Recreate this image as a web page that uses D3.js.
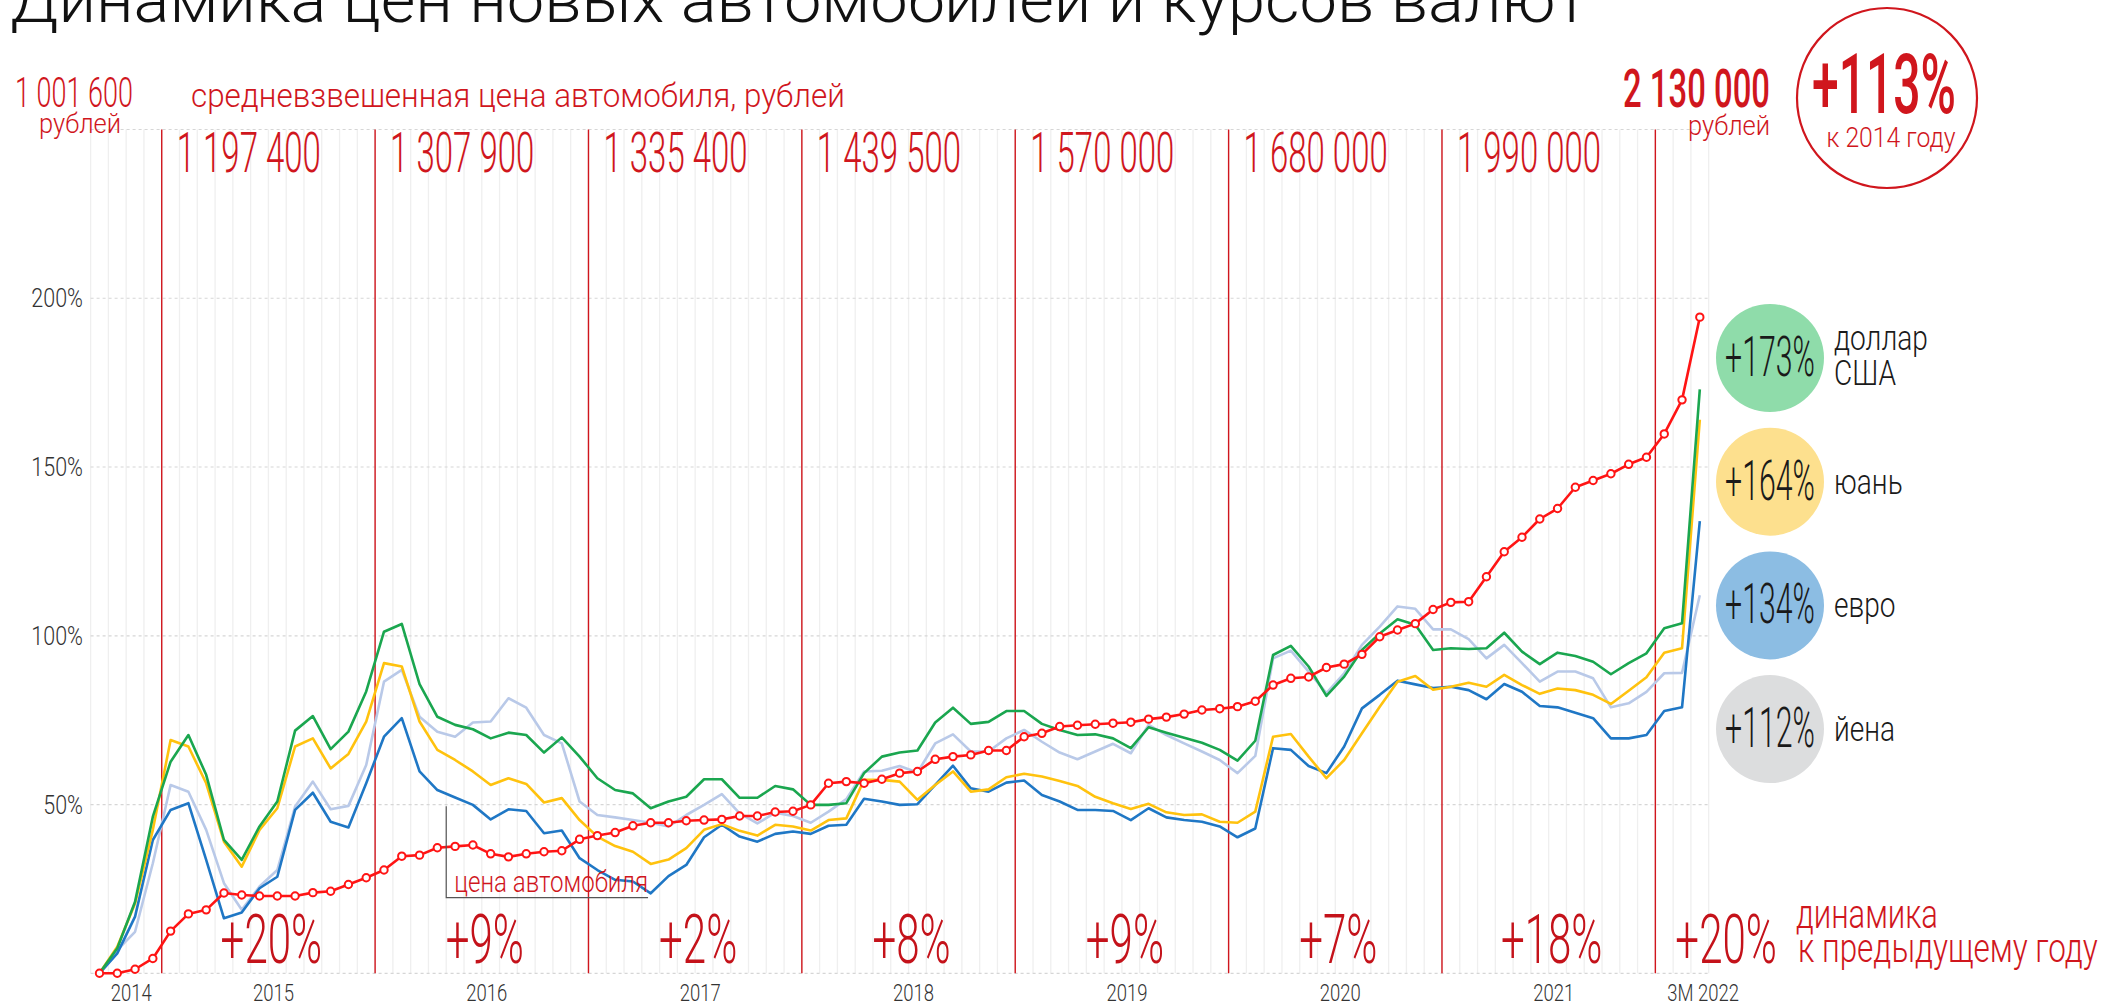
<!DOCTYPE html>
<html><head><meta charset="utf-8">
<script src="https://cdn.jsdelivr.net/npm/d3@7"></script>
<style>
html,body{margin:0;padding:0;background:#fff;overflow:hidden}
svg{display:block}
text{font-family:Roboto,"Noto Sans",sans-serif}
</style></head><body>
<svg id="chart" width="2106" height="1006"></svg>
<script>
// ---------- DATA ----------
const yearLabels = ["2014","2015","2016","2017","2018","2019","2020","2021","3М 2022"];
const monthsPerYear = [4,12,12,12,12,12,12,12,3];
const yearPrices = [1001600,1197400,1307900,1335400,1439500,1570000,1680000,1990000,2130000];
const yearChange = [null,20,9,2,8,9,7,18,20];
const yTicks = [50,100,150,200];
const gridTicks = [0,50,100,150,200,250];

// % change vs first month
const carPrice = [0,0,1.2,4.4,12.5,17.6,18.8,23.8,23.2,22.9,22.9,22.9,23.9,24.3,26.3,28.3,30.6,34.7,35.0,37.2,37.6,38.0,35.4,34.5,35.4,36.0,36.3,39.7,40.8,41.7,43.7,44.6,44.6,45.2,45.4,45.6,46.6,46.6,47.8,48.0,49.9,56.3,56.8,56.3,57.5,59.3,59.8,63.4,64.2,64.7,66.0,66.0,70.1,71.1,73.1,73.5,73.8,74.1,74.4,75.3,75.9,76.8,78.0,78.4,79.0,80.6,85.4,87.4,87.8,90.6,91.6,94.5,99.7,101.7,103.6,107.8,109.9,110.1,117.5,124.9,129.2,134.6,137.7,144.0,146.0,148.0,150.8,152.9,159.8,169.9,194.4];
const usd = [0,7.4,21.2,46.4,62.7,70.6,58.8,39.5,33.6,43.5,50.9,71.9,76.2,66.4,71.6,83.5,101.2,103.5,85.7,76.0,73.6,72.3,69.6,71.3,70.6,65.4,69.9,64.2,57.8,54.3,53.3,48.9,50.9,52.3,57.5,57.5,52.0,52.0,55.5,54.5,49.9,49.9,50.4,59.3,64.2,65.4,66.0,74.3,78.7,73.9,74.5,77.7,77.7,73.9,72.1,70.6,70.8,69.6,66.7,72.9,71.3,69.8,68.3,66.2,63.0,68.9,94.3,97.0,90.9,82.2,87.9,95.8,100.7,104.9,103.3,95.8,96.3,96.1,96.3,100.9,95.3,91.6,95.0,94.0,92.3,88.6,91.9,94.8,102.2,103.7,173];
const cny = [0,7.9,20.7,42.5,69.1,67.2,56.3,39.0,31.6,42.5,48.9,67.2,69.6,60.7,65.0,74.6,91.9,90.9,74.6,66.2,63.2,59.8,55.8,57.8,56.1,50.6,51.9,45.4,40.5,37.7,36.0,32.4,33.7,37.1,42.5,44.2,42.2,40.8,44.0,43.5,42.3,45.4,45.9,57.3,57.3,56.8,51.4,55.8,59.8,53.8,54.5,58.1,59.1,58.3,57.0,55.5,52.3,50.4,48.7,50.2,47.7,46.9,47.1,44.9,44.6,47.9,70.1,70.9,64.2,57.8,63.2,71.1,79.0,86.4,88.1,84.0,84.9,86.1,84.9,88.4,85.4,82.8,84.4,83.9,82.5,79.8,83.7,87.7,95.0,96.3,164];
const eur = [0,5.9,16.8,39.5,48.4,50.4,33.6,16.3,18.0,25.2,28.6,48.4,53.5,44.9,43.2,56.3,70.1,75.6,59.8,54.3,52.1,49.9,45.6,48.6,48.1,41.5,42.3,34.1,30.6,27.7,27.2,23.7,28.8,32.1,40.3,44.0,40.5,39.0,41.3,42.0,41.3,43.7,44.0,51.7,50.9,49.9,50.1,55.8,61.5,54.8,53.8,56.5,57.1,52.8,50.9,48.4,48.4,48.1,45.4,48.9,46.2,45.4,44.9,43.5,40.3,42.9,66.7,66.2,61.4,59.3,67.2,78.5,82.5,86.7,85.6,84.5,84.9,83.9,81.2,85.7,83.4,79.2,78.8,77.2,75.6,69.6,69.6,70.6,77.7,78.8,134];
const jpy = [0,6.9,12.3,32.6,55.8,53.8,42.5,26.7,18.8,25.7,30.6,49.4,56.8,48.6,49.6,61.7,86.4,89.9,76.0,71.6,70.1,74.3,74.6,81.5,78.7,70.6,68.1,50.9,46.9,46.2,45.4,44.6,43.5,46.9,49.9,53.1,47.4,44.4,47.6,46.6,44.6,47.9,51.6,59.8,60.0,61.4,59.5,68.1,70.8,65.7,65.7,69.6,72.1,68.6,65.4,63.4,65.7,68.0,65.2,73.6,70.6,68.1,65.7,63.2,59.3,64.4,93.3,95.6,89.4,83.0,88.9,97.3,102.7,108.7,108.0,101.9,101.9,99.0,93.3,97.3,91.9,86.4,89.4,89.4,87.4,78.8,80.0,83.4,88.9,89.0,112];
const currencyNames = [["доллар","США"],["юань"],["евро"],["йена"]];
const currencySeries = [usd, cny, eur, jpy];

// ---------- STYLE ----------
const lineColors = ["#1aa64f","#ffc20e","#1f77c5","#b9c9e8"];
const circleColors = ["#8fdcaa","#fde08e","#8cbde3","#dcddde"];
const RED = "#d0161d", DARKRED = "#c4121a", PRICE_RED = "#ff1414";

const svg = d3.select("#chart");
svg.append("rect").attr("width",2106).attr("height",1006).attr("fill","#fff");

// months (categories)
const months = [];
yearLabels.forEach((y,yi)=>{ for(let m=0;m<monthsPerYear[yi];m++) months.push(yi+"-"+m); });
const x = d3.scaleBand().domain(months).range([90.6,1708.7]).padding(0);
const y = d3.scaleLinear().domain([0,250]).range([973.3,129.5]);
const bw = x.bandwidth();
const xc = i => x(months[i]) + bw/2;

// year boundaries
const yearStart = [], yearEnd = [];
let acc = 0;
monthsPerYear.forEach(n=>{ yearStart.push(x(months[acc])); acc+=n; yearEnd.push(acc<months.length? x(months[acc]) : x.range()[1]); });

// horizontal condensing of text (emulates a condensed typeface)
function squeezeEl(el,k){
  const s = d3.select(el);
  const x0 = +s.attr("x") || 0, y0 = +s.attr("y") || 0;
  s.attr("x", x0/k).attr("y", y0).attr("transform", `scale(${k},1)`);
}
function condense(sel,k){ sel.each(function(){ squeezeEl(this,k); }); return sel; }
function fit(sel,w){ sel.each(function(){ const L=this.getComputedTextLength(); squeezeEl(this, w/L); }); return sel; }
const fmt = d3.formatLocale({decimal:",",thousands:" ",grouping:[3],currency:["",""]}).format(",d");

// ---------- GRID ----------
const g = svg.append("g");
g.selectAll(".vg").data(d3.range(months.length+1)).join("line")
  .attr("x1",i=> i<months.length? x(months[i]) : x.range()[1]).attr("x2",i=> i<months.length? x(months[i]) : x.range()[1])
  .attr("y1",y(250)).attr("y2",y(0)).attr("stroke","#efefef").attr("stroke-width",1.3);
g.selectAll(".hg").data(gridTicks).join("line")
  .attr("x1",x.range()[0]).attr("x2",x.range()[1]).attr("y1",d=>y(d)).attr("y2",d=>y(d))
  .attr("stroke","#d6d6d6").attr("stroke-width",1.2).attr("stroke-dasharray","3,3");
g.selectAll(".yl").data(yearEnd.slice(0,-1)).join("line")
  .attr("x1",d=>d).attr("x2",d=>d).attr("y1",y(250)).attr("y2",y(0))
  .attr("stroke",RED).attr("stroke-width",1.4);

// y tick labels
condense(svg.selectAll(".yt").data(yTicks).join("text")
  .attr("x",83).attr("y",d=>y(d)+9).attr("text-anchor","end")
  .attr("font-size",25).attr("font-weight",300).attr("fill","#333").text(d=>d+"%"),0.86);

// year labels
condense(svg.selectAll(".xl").data(yearLabels).join("text")
  .attr("x",(d,i)=> i===yearLabels.length-1 ? yearStart[i]+12 : (yearStart[i]+yearEnd[i])/2+5)
  .attr("text-anchor",(d,i)=> i===yearLabels.length-1 ? "start":"middle")
  .attr("y",1001).attr("font-size",24).attr("font-weight",300).attr("fill","#333").text(d=>d),0.77);

// ---------- LINES ----------
const line = d3.line().x((d,i)=>xc(i)).y(d=>y(d));
[3,2,1,0].forEach(k=>{
  svg.append("path").datum(currencySeries[k]).attr("d",line).attr("fill","none")
    .attr("stroke",lineColors[k]).attr("stroke-width",2.6).attr("stroke-linejoin","round");
});
svg.append("path").datum(carPrice).attr("d",line).attr("fill","none")
  .attr("stroke",PRICE_RED).attr("stroke-width",2.6).attr("stroke-linejoin","round");
svg.selectAll(".pm").data(carPrice).join("circle")
  .attr("cx",(d,i)=>xc(i)).attr("cy",d=>y(d)).attr("r",3.7)
  .attr("fill","#fff").attr("stroke",PRICE_RED).attr("stroke-width",2);

// annotation "цена автомобиля"
const ax0 = x(months[20]), ax1 = x(months[31]) + bw*0.35;
svg.append("path").attr("d",`M${ax0},${y(49.5)}V${y(22.4)}H${ax1}`)
  .attr("fill","none").attr("stroke","#555").attr("stroke-width",1.2);
fit(svg.append("text").attr("x",ax0+8).attr("y",y(22.4)-6).attr("font-size",29).attr("font-weight",300)
  .attr("fill",RED).text("цена автомобиля"),194);

// ---------- TOP TEXTS ----------
fit(svg.append("text").attr("x",10).attr("y",22).attr("font-size",65).attr("font-weight",300)
  .attr("fill","#111").text("Динамика цен новых автомобилей и курсов валют"),1578);
fit(svg.append("text").attr("x",15).attr("y",107).attr("font-size",42).attr("font-weight",300)
  .attr("fill",RED).text(fmt(yearPrices[0])),118);
fit(svg.append("text").attr("x",121).attr("y",133).attr("text-anchor","end").attr("font-size",28).attr("font-weight",300)
  .attr("fill",RED).text("рублей"),82);
fit(svg.append("text").attr("x",191).attr("y",107).attr("font-size",34).attr("font-weight",300)
  .attr("fill",RED).text("средневзвешенная цена автомобиля, рублей"),654);

// yearly prices
const mid = d3.range(1,yearPrices.length-1);
condense(svg.selectAll(".yp").data(mid).join("text")
  .attr("x",i=>yearStart[i]+15).attr("y",172).attr("font-size",55).attr("font-weight",300)
  .attr("fill",RED).text(i=>fmt(yearPrices[i])),0.6);

const last = yearPrices.length-1;
fit(svg.append("text").attr("x",1770).attr("y",107).attr("text-anchor","end").attr("font-size",53).attr("font-weight",500)
  .attr("fill",RED).text(fmt(yearPrices[last])),147);
fit(svg.append("text").attr("x",1770).attr("y",135).attr("text-anchor","end").attr("font-size",28).attr("font-weight",300)
  .attr("fill",RED).text("рублей"),82);

svg.append("circle").attr("cx",1887).attr("cy",98).attr("r",90).attr("fill","none").attr("stroke",RED).attr("stroke-width",2.2);
const total = Math.round((yearPrices[last]/yearPrices[0]-1)*100);
fit(svg.append("text").attr("x",1884).attr("y",113).attr("text-anchor","middle").attr("font-size",83).attr("font-weight",500)
  .attr("fill",RED).text("+"+total+"%"),144);
fit(svg.append("text").attr("x",1891).attr("y",147).attr("text-anchor","middle").attr("font-size",27).attr("font-weight",300)
  .attr("fill",RED).text("к 2014 году"),129);

// ---------- BOTTOM CHANGE LABELS ----------
const ch = d3.range(yearChange.length).filter(i=>yearChange[i]!=null);
condense(svg.selectAll(".yc").data(ch).join("text")
  .attr("x",i=> i===last ? yearStart[i]+20 : (yearStart[i]+yearEnd[i])/2+3)
  .attr("text-anchor",i=> i===last ? "start":"middle")
  .attr("y",963).attr("font-size",69).attr("font-weight",300).attr("fill",DARKRED)
  .text(i=>"+"+yearChange[i]+"%"),0.61);
fit(svg.append("text").attr("x",1796).attr("y",928).attr("font-size",40).attr("font-weight",300)
  .attr("fill",RED).text("динамика"),142);
fit(svg.append("text").attr("x",1798).attr("y",962).attr("font-size",40).attr("font-weight",300)
  .attr("fill",RED).text("к предыдущему году"),300);

// ---------- LEGEND ----------
const lg = svg.selectAll(".lg").data(currencySeries).join("g")
  .attr("transform",(d,i)=>`translate(1770,${358+123.7*i})`);
lg.append("circle").attr("r",54).attr("fill",(d,i)=>circleColors[i]);
condense(lg.append("text").attr("x",0).attr("y",18).attr("text-anchor","middle").attr("font-size",55).attr("font-weight",300)
  .attr("fill","#1a1a1a").text(d=>"+"+Math.round(d[d.length-1])+"%"),0.55);
lg.each(function(d,i){
  const names = currencyNames[i];
  const t0 = names.length===1 ? 12 : -8;
  names.forEach((n,j)=>{
    condense(d3.select(this).append("text").attr("x",64).attr("y",t0+35*j)
      .attr("font-size",36).attr("font-weight",300).attr("fill","#1a1a1a").text(n),0.78);
  });
});
</script>
</body></html>
